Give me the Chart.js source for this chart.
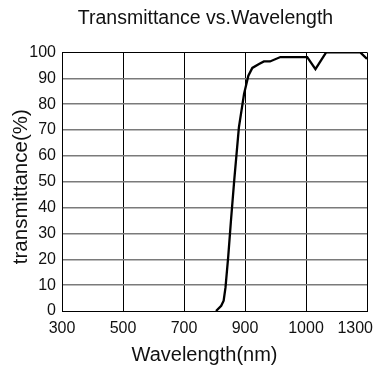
<!DOCTYPE html>
<html>
<head>
<meta charset="utf-8">
<script src="https://cdn.jsdelivr.net/npm/chart.js@4"></script>
<style>
  html, body { margin: 0; padding: 0; background: #fff; }
  #wrap { width: 375px; height: 372px; }
</style>
</head>
<body>
<div id="wrap"><canvas id="transChart" width="375" height="372"></canvas></div>
<script>
// Данные
const wavelengths = [805, 822, 830, 836, 845, 854, 865, 880, 897, 911, 924, 946, 962, 982, 1016, 1104, 1131, 1166, 1278, 1300];
const transmittance = [0, 2, 4, 9, 21, 35, 51, 71, 84, 91, 94, 95.5, 96.5, 96.5, 98.2, 98.2, 93.5, 100, 100, 97.5];
const xTickLabels = ['300', '500', '700', '900', '1000', '1300'];
const yTicks = [0, 10, 20, 30, 40, 50, 60, 70, 80, 90, 100];

const FONT = 'Liberation Sans, Arial, sans-serif';

// сдвиг заголовка оси (как на оригинале)
function shiftTitle(scale, dx, dy) {
    if (scale._shifted) return;
    scale._shifted = true;
    const orig = scale.drawTitle;
    scale.drawTitle = function() {
        const l = this.left, r = this.right, t = this.top, b = this.bottom;
        this.left = l + dx; this.right = r + dx;
        this.top = t + dy; this.bottom = b + dy;
        orig.call(this);
        this.left = l; this.right = r; this.top = t; this.bottom = b;
    };
}

// последнюю подпись оси X рисуем сами, чтобы не вылезала за край
const fixPlugin = {
    id: 'fix',
    afterLayout(chart) {
        if (chart.titleBlock) {
            chart.titleBlock.left = 36;
            chart.titleBlock.right = 375;
            chart.titleBlock.width = 339;
        }
        shiftTitle(chart.scales.x, -10, 0);
        shiftTitle(chart.scales.y, 0, 5);
    },
    afterDraw(chart) {
        const ctx = chart.ctx;
        const xs = chart.scales.x;
        ctx.save();
        ctx.font = '16px ' + FONT;
        ctx.fillStyle = '#111';
        ctx.textAlign = 'right';
        ctx.textBaseline = 'middle';
        ctx.fillText(xTickLabels[xTickLabels.length - 1], chart.width - 2, xs.top + 17.5);
        ctx.restore();
    }
};

function createChart() {
    const ctx = document.getElementById('transChart');
    new Chart(ctx, {
        type: 'line',
        data: {
            datasets: [{
                data: wavelengths.map((w, i) => ({ x: w, y: transmittance[i] })),
                borderColor: '#000',
                borderWidth: 2.3,
                pointRadius: 0,
                tension: 0,
                fill: false
            }]
        },
        options: {
            responsive: false,
            animation: false,
            layout: { padding: { left: 0, right: 8, top: 0, bottom: 0 } },
            plugins: {
                legend: { display: false },
                tooltip: { enabled: false },
                title: {
                    display: true,
                    text: 'Transmittance vs.Wavelength',
                    color: '#111',
                    font: { family: FONT, size: 19.5, weight: 'normal' },
                    padding: { top: 7, bottom: 22 }
                }
            },
            scales: {
                x: {
                    type: 'linear',
                    min: 300,
                    max: 1300,
                    afterBuildTicks: s => { s.ticks = [300, 500, 700, 900, 1100, 1300].map(v => ({ value: v })); },
                    afterFit: s => { s.height = 61; },
                    border: { color: '#000', width: 1 },
                    grid: { color: '#000', lineWidth: 1, drawTicks: false },
                    ticks: {
                        color: '#111',
                        font: { family: FONT, size: 16 },
                        padding: 8,
                        maxRotation: 0,
                        callback: (v, i) => i === xTickLabels.length - 1 ? '' : xTickLabels[i]
                    },
                    title: {
                        display: true,
                        text: 'Wavelength(nm)',
                        color: '#111',
                        font: { family: FONT, size: 20 },
                        padding: { top: 4, bottom: 5 }
                    }
                },
                y: {
                    min: 0,
                    max: 100,
                    afterBuildTicks: s => { s.ticks = yTicks.map(v => ({ value: v })); },
                    afterFit: s => { s.width = 62; },
                    border: { color: '#000', width: 1 },
                    grid: {
                        color: c => (c.tick.value === 0 || c.tick.value === 100) ? '#000' : '#7a7a7a',
                        lineWidth: c => (c.tick.value === 0 || c.tick.value === 100) ? 1 : 1.5,
                        drawTicks: false
                    },
                    ticks: {
                        color: '#111',
                        font: { family: FONT, size: 16 },
                        padding: 6
                    },
                    title: {
                        display: true,
                        text: 'transmittance(%)',
                        color: '#111',
                        font: { family: FONT, size: 20.5 },
                        padding: { top: 9, bottom: 1 }
                    }
                }
            }
        },
        plugins: [fixPlugin]
    });
}

window.onload = function() {
    createChart();
};
</script>
</body>
</html>
